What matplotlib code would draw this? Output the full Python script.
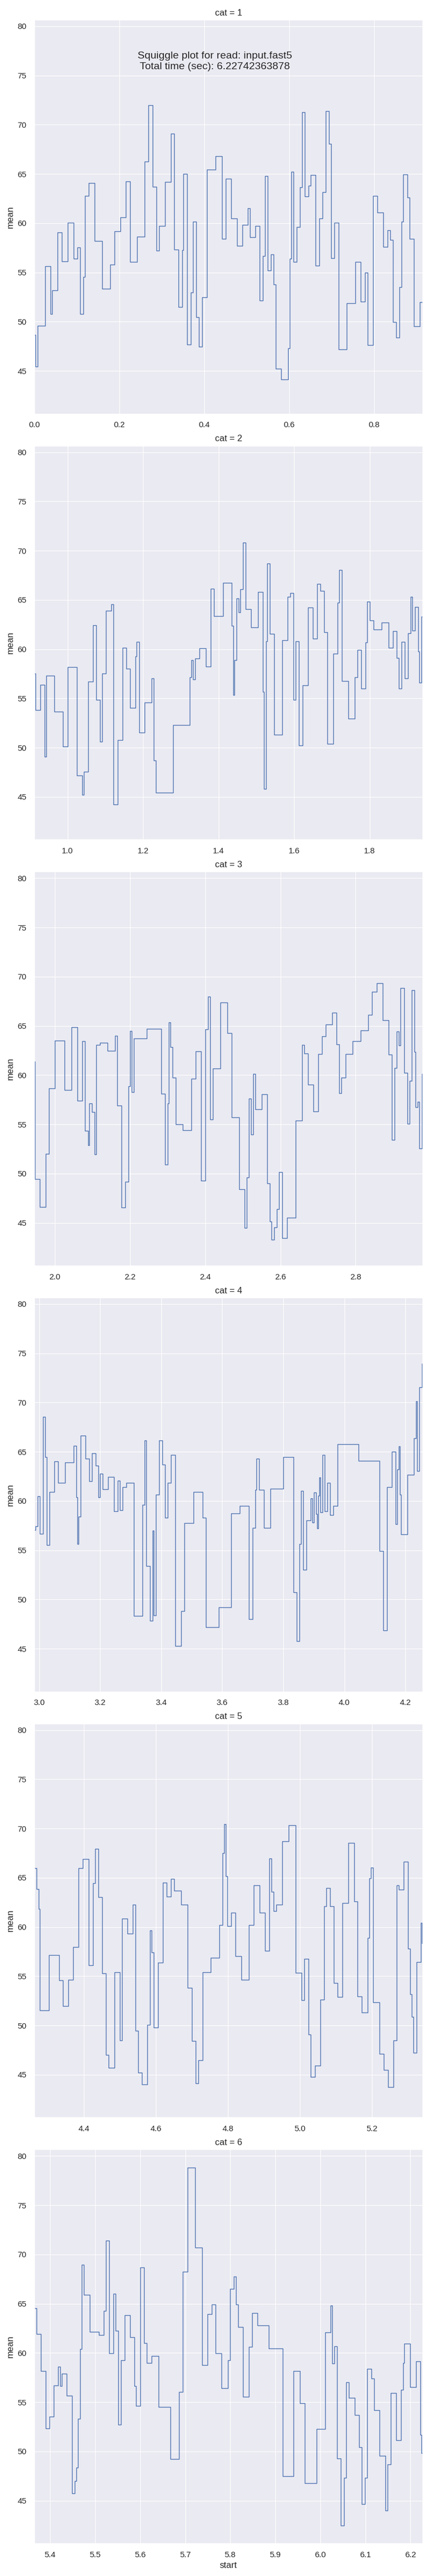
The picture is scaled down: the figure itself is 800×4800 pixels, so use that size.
import matplotlib
matplotlib.use("Agg")
import matplotlib.pyplot as plt
from matplotlib.ticker import MaxNLocator
import seaborn as sns

read_name = "input.fast5"
total_time = "6.22742363878"

# event start times (s) and mean current per event, one block per facet
start1 = [0.000, 0.002, 0.008, 0.025, 0.038, 0.042, 0.055, 0.064, 0.079, 0.093,
          0.101, 0.108, 0.115, 0.119, 0.128, 0.142, 0.160, 0.178, 0.189, 0.203,
          0.215, 0.225, 0.242, 0.260, 0.269, 0.278, 0.287, 0.294, 0.307, 0.321,
          0.329, 0.339, 0.348, 0.351, 0.360, 0.368, 0.374, 0.381, 0.388, 0.395,
          0.406, 0.426, 0.442, 0.451, 0.463, 0.477, 0.490, 0.503, 0.508, 0.520,
          0.531, 0.538, 0.543, 0.549, 0.557, 0.563, 0.568, 0.581, 0.597, 0.601,
          0.605, 0.610, 0.618, 0.626, 0.630, 0.637, 0.646, 0.651, 0.662, 0.671,
          0.678, 0.686, 0.694, 0.699, 0.706, 0.716, 0.736, 0.756, 0.769, 0.778,
          0.785, 0.797, 0.808, 0.821, 0.832, 0.838, 0.845, 0.852, 0.859, 0.864,
          0.869, 0.878, 0.884, 0.894, 0.908]
mean1 = [48.64, 45.46, 49.60, 55.65, 50.80, 53.20, 59.05, 56.15, 60.03, 56.40,
         57.55, 50.80, 54.55, 62.80, 64.07, 58.20, 53.34, 55.80, 59.16, 60.58,
         64.26, 56.07, 58.63, 66.27, 72.00, 63.70, 57.20, 59.72, 64.20, 69.10,
         57.33, 51.48, 57.27, 64.99, 47.66, 52.95, 60.17, 50.45, 47.44, 52.50,
         65.46, 66.82, 58.41, 64.54, 60.47, 57.69, 59.83, 61.53, 58.58, 59.72,
         52.12, 56.66, 64.80, 55.18, 56.85, 53.76, 45.24, 44.15, 47.27, 56.38,
         65.20, 56.07, 59.61, 63.65, 71.28, 62.73, 63.79, 64.90, 55.68, 60.47,
         63.15, 71.39, 68.08, 56.43, 60.06, 47.21, 51.87, 56.07, 52.06, 54.96,
         47.63, 62.76, 61.09, 57.58, 59.30, 58.30, 49.97, 48.41, 53.50, 60.17,
         64.93, 62.62, 58.41, 49.55, 52.00]

start2 = [0.912, 0.915, 0.927, 0.939, 0.943, 0.964, 0.987, 1.000, 1.024, 1.039,
          1.043, 1.055, 1.067, 1.076, 1.085, 1.092, 1.101, 1.115, 1.121, 1.132,
          1.146, 1.155, 1.166, 1.179, 1.183, 1.189, 1.204, 1.223, 1.228, 1.234,
          1.280, 1.323, 1.328, 1.332, 1.338, 1.349, 1.366, 1.379, 1.388, 1.412,
          1.435, 1.439, 1.442, 1.447, 1.453, 1.458, 1.464, 1.472, 1.486, 1.504,
          1.517, 1.520, 1.525, 1.529, 1.535, 1.547, 1.568, 1.583, 1.590, 1.598,
          1.604, 1.612, 1.623, 1.637, 1.650, 1.661, 1.669, 1.679, 1.688, 1.703,
          1.715, 1.720, 1.726, 1.744, 1.761, 1.768, 1.777, 1.789, 1.794, 1.801,
          1.811, 1.832, 1.850, 1.862, 1.871, 1.878, 1.884, 1.893, 1.902, 1.909,
          1.913, 1.920, 1.928, 1.931, 1.937]
mean2 = [57.55, 53.80, 56.40, 49.09, 57.30, 53.66, 50.09, 58.17, 47.17, 45.22,
         47.56, 56.69, 62.43, 54.85, 50.62, 57.55, 63.88, 64.55, 44.24, 50.79,
         60.12, 58.03, 54.02, 59.25, 60.73, 51.51, 54.60, 57.05, 48.70, 45.44,
         52.32, 57.16, 58.89, 56.91, 59.03, 60.06, 58.22, 66.13, 63.38, 66.72,
         62.37, 55.33, 58.86, 65.18, 63.71, 66.10, 70.81, 64.04, 62.20, 65.83,
         55.66, 45.83, 60.79, 68.69, 61.54, 51.29, 60.90, 65.30, 65.71, 54.88,
         60.79, 50.20, 56.30, 64.21, 61.06, 66.61, 65.94, 61.70, 50.40, 59.56,
         64.74, 68.03, 56.75, 52.93, 57.16, 59.92, 56.02, 60.70, 64.85, 62.90,
         61.98, 62.71, 60.12, 61.82, 59.11, 56.02, 60.73, 57.05, 61.59, 65.32,
         61.89, 64.29, 59.75, 56.58, 63.29]

start3 = [1.946, 1.948, 1.960, 1.976, 1.985, 2.000, 2.026, 2.045, 2.060, 2.073,
          2.081, 2.089, 2.092, 2.099, 2.106, 2.111, 2.121, 2.141, 2.161, 2.166,
          2.177, 2.188, 2.196, 2.201, 2.205, 2.210, 2.245, 2.283, 2.294, 2.300,
          2.304, 2.308, 2.313, 2.322, 2.341, 2.363, 2.375, 2.389, 2.401, 2.408,
          2.413, 2.421, 2.440, 2.459, 2.471, 2.490, 2.505, 2.511, 2.516, 2.522,
          2.528, 2.534, 2.550, 2.565, 2.572, 2.577, 2.584, 2.590, 2.596, 2.605,
          2.618, 2.640, 2.658, 2.663, 2.673, 2.688, 2.700, 2.710, 2.721, 2.738,
          2.750, 2.757, 2.762, 2.773, 2.792, 2.813, 2.833, 2.843, 2.857, 2.872,
          2.888, 2.897, 2.904, 2.909, 2.915, 2.920, 2.929, 2.938, 2.944, 2.949,
          2.956, 2.960, 2.965, 2.970, 2.976]
mean3 = [61.40, 49.45, 46.61, 52.01, 58.67, 63.49, 58.50, 64.88, 57.42, 63.43,
         54.35, 52.88, 57.14, 56.27, 51.96, 63.07, 63.26, 62.48, 63.99, 56.89,
         46.56, 49.15, 58.89, 64.46, 58.28, 63.71, 64.71, 58.11, 50.93, 57.11,
         65.35, 62.87, 59.75, 55.02, 54.41, 59.64, 62.40, 49.28, 64.63, 67.97,
         55.49, 60.67, 67.36, 64.29, 55.72, 48.42, 44.47, 49.62, 57.64, 53.94,
         60.12, 56.55, 58.06, 49.03, 45.13, 43.27, 44.52, 46.39, 50.15, 43.44,
         45.52, 55.38, 63.04, 62.21, 59.06, 56.33, 62.12, 63.96, 65.16, 66.33,
         63.10, 58.14, 59.75, 62.12, 63.46, 64.52, 66.10, 68.44, 69.36, 65.55,
         62.07, 53.41, 60.70, 64.41, 63.01, 68.83, 60.23, 55.08, 59.39, 68.64,
         62.37, 56.72, 57.30, 52.57, 60.14]

start4 = [2.985, 2.988, 2.995, 3.002, 3.013, 3.020, 3.025, 3.035, 3.051, 3.062,
          3.085, 3.114, 3.122, 3.126, 3.130, 3.136, 3.153, 3.164, 3.173, 3.185,
          3.195, 3.200, 3.208, 3.227, 3.245, 3.258, 3.265, 3.274, 3.286, 3.311,
          3.339, 3.345, 3.352, 3.363, 3.372, 3.376, 3.383, 3.394, 3.404, 3.412,
          3.421, 3.433, 3.446, 3.466, 3.477, 3.506, 3.536, 3.547, 3.589, 3.630,
          3.658, 3.687, 3.699, 3.708, 3.712, 3.720, 3.736, 3.757, 3.800, 3.833,
          3.844, 3.853, 3.858, 3.866, 3.875, 3.889, 3.895, 3.901, 3.907, 3.911,
          3.914, 3.918, 3.921, 3.928, 3.935, 3.945, 3.954, 3.963, 3.977, 4.047,
          4.116, 4.127, 4.139, 4.155, 4.168, 4.174, 4.178, 4.182, 4.185, 4.207,
          4.228, 4.234, 4.238, 4.246, 4.255]
mean4 = [57.08, 57.42, 60.48, 56.69, 68.53, 64.49, 55.55, 60.95, 64.04, 61.87,
         63.90, 65.63, 60.37, 55.66, 58.42, 66.66, 64.32, 62.04, 64.85, 63.57,
         60.37, 62.79, 61.17, 62.43, 58.95, 62.07, 59.06, 61.40, 61.84, 48.34,
         59.59, 66.16, 53.38, 47.86, 57.00, 48.39, 60.67, 66.16, 63.68, 58.31,
         61.87, 64.66, 45.30, 48.84, 57.75, 60.95, 58.33, 47.20, 49.23, 58.72,
         59.53, 48.03, 57.30, 61.12, 64.32, 61.12, 57.30, 61.26, 64.49, 50.76,
         45.80, 55.66, 61.01, 53.04, 58.06, 60.26, 57.81, 60.87, 58.67, 57.22,
         60.56, 62.37, 58.84, 64.71, 58.95, 61.84, 58.56, 59.48, 65.80, 64.07,
         54.91, 46.89, 61.40, 64.99, 57.64, 63.24, 65.55, 60.67, 56.64, 62.65,
         66.36, 70.14, 63.04, 71.53, 73.96]

start5 = [4.262, 4.268, 4.274, 4.277, 4.302, 4.330, 4.341, 4.356, 4.370, 4.384,
          4.397, 4.413, 4.425, 4.431, 4.439, 4.450, 4.460, 4.468, 4.484, 4.499,
          4.505, 4.520, 4.535, 4.542, 4.550, 4.561, 4.575, 4.583, 4.588, 4.593,
          4.605, 4.619, 4.629, 4.641, 4.650, 4.670, 4.687, 4.700, 4.710, 4.717,
          4.729, 4.752, 4.776, 4.785, 4.789, 4.794, 4.798, 4.809, 4.820, 4.837,
          4.858, 4.871, 4.887, 4.903, 4.914, 4.920, 4.927, 4.934, 4.950, 4.968,
          4.987, 5.004, 5.012, 5.023, 5.029, 5.041, 5.056, 5.067, 5.073, 5.083,
          5.093, 5.104, 5.118, 5.134, 5.151, 5.159, 5.171, 5.187, 5.192, 5.197,
          5.202, 5.220, 5.233, 5.245, 5.260, 5.269, 5.275, 5.287, 5.299, 5.305,
          5.310, 5.314, 5.324, 5.335, 5.338]
mean5 = [65.95, 63.86, 61.86, 51.51, 57.16, 54.60, 51.95, 54.65, 57.99, 65.95,
         66.89, 56.13, 64.47, 67.95, 63.03, 55.32, 47.03, 45.72, 55.38, 48.50,
         60.86, 59.30, 62.28, 49.48, 45.22, 44.02, 50.06, 59.63, 57.41, 49.81,
         56.41, 64.53, 63.11, 64.89, 63.67, 62.28, 53.82, 48.42, 44.13, 46.44,
         55.38, 56.85, 60.19, 67.48, 70.43, 65.14, 60.11, 61.47, 57.05, 54.65,
         60.22, 64.25, 61.44, 57.57, 66.98, 63.56, 61.61, 62.28, 68.70, 70.35,
         55.35, 52.57, 56.77, 49.06, 44.80, 45.94, 52.65, 62.08, 63.97, 62.08,
         54.32, 52.87, 62.44, 68.54, 62.61, 52.95, 51.34, 58.91, 64.92, 66.03,
         52.34, 47.14, 45.47, 43.72, 48.48, 64.22, 63.78, 66.64, 57.80, 53.18,
         50.90, 47.25, 56.46, 60.44, 58.35]

start6 = [5.365, 5.370, 5.379, 5.390, 5.398, 5.408, 5.417, 5.422, 5.426, 5.437,
          5.449, 5.454, 5.458, 5.462, 5.467, 5.470, 5.475, 5.488, 5.508, 5.519,
          5.524, 5.531, 5.540, 5.545, 5.551, 5.557, 5.566, 5.577, 5.587, 5.591,
          5.600, 5.609, 5.614, 5.625, 5.641, 5.667, 5.686, 5.694, 5.705, 5.722,
          5.738, 5.750, 5.759, 5.767, 5.781, 5.795, 5.799, 5.808, 5.813, 5.818,
          5.828, 5.841, 5.849, 5.861, 5.885, 5.916, 5.941, 5.955, 5.966, 5.992,
          6.011, 6.023, 6.027, 6.031, 6.037, 6.045, 6.053, 6.058, 6.064, 6.077,
          6.086, 6.092, 6.099, 6.104, 6.113, 6.119, 6.132, 6.145, 6.149, 6.156,
          6.169, 6.179, 6.184, 6.187, 6.199, 6.213, 6.222, 6.225]
mean6 = [64.56, 61.91, 58.19, 52.31, 53.54, 56.71, 58.58, 56.63, 57.91, 55.65,
         45.75, 46.97, 48.34, 53.34, 60.41, 68.93, 65.92, 62.16, 61.80, 64.25,
         71.40, 59.94, 66.03, 62.25, 52.70, 59.24, 63.81, 61.58, 56.63, 54.60,
         68.68, 61.02, 58.97, 59.69, 54.54, 49.25, 56.02, 68.26, 78.83, 70.68,
         58.74, 63.94, 64.95, 59.94, 56.41, 59.24, 66.50, 67.73, 64.95, 62.61,
         55.54, 60.63, 64.03, 62.78, 60.47, 47.47, 58.16, 54.90, 46.75, 52.29,
         62.11, 64.84, 58.91, 60.69, 49.28, 42.49, 47.33, 57.02, 55.46, 53.68,
         50.42, 44.64, 47.33, 58.41, 57.41, 54.21, 49.56, 43.97, 48.67, 55.93,
         51.12, 56.24, 58.99, 60.97, 56.52, 59.16, 51.70, 49.81]

# end time of the last event in each facet
ends = [0.914, 1.940, 2.978, 4.256, 5.340, 6.227]

starts = [start1, start2, start3, start4, start5, start6]
means = [mean1, mean2, mean3, mean4, mean5, mean6]

sns.set_style("darkgrid")
plt.rcParams['font.family'] = ['Liberation Sans', 'DejaVu Sans']
plt.rcParams['xtick.labelsize'] = 11
plt.rcParams['ytick.labelsize'] = 11
plt.rcParams['xtick.major.pad'] = 7
plt.rcParams['ytick.major.pad'] = 7
plt.rcParams['axes.labelsize'] = 12
plt.rcParams['axes.titlesize'] = 12

fig, axes = plt.subplots(6, 1, figsize=(8, 48), dpi=100, sharey=True)
fig.subplots_adjust(left=0.08, right=0.9825, top=1 - 37 / 4800,
                    bottom=1 - 4739 / 4800, hspace=0.082)

for i, ax in enumerate(axes):
    x = starts[i] + [ends[i]]
    y = means[i] + [means[i][-1]]
    ax.step(x, y, where='post', color="#4C72B0", lw=1.0)
    ax.set_xlim(starts[i][0], ends[i])
    ax.xaxis.set_major_locator(MaxNLocator(nbins=9, steps=[1, 2, 5, 10]))
    ax.set_title("cat = %d" % (i + 1), color="#262626")
    ax.set_ylabel("mean", color="#262626")
    ax.tick_params(colors="#262626")

axes[-1].set_xlabel("start", color="#262626")

fig.suptitle("Squiggle plot for read: %s\nTotal time (sec): %s" % (read_name, total_time),
             fontsize=14, color="#262626", y=0.98)

fig.savefig("out.png", dpi=100)
